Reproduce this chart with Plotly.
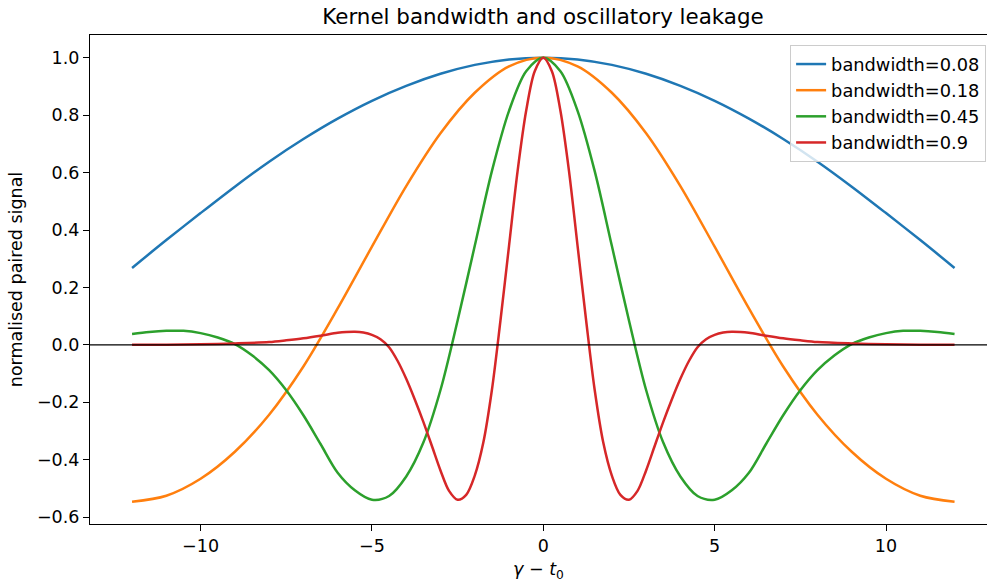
import plotly.graph_objects as go

# ---- data (curves are symmetric; values listed for x >= 0) ----
blue_x = [0, 1, 2, 3, 4, 5, 6, 7, 8, 9, 10, 11, 12]
blue_y = [1.000, 0.994, 0.975, 0.944, 0.902, 0.850, 0.788, 0.717, 0.638, 0.551, 0.459, 0.365, 0.268]

orange_x = [0, 1, 2, 3, 4, 5, 6, 7, 8, 9, 10, 11, 12]
orange_y = [1.000, 0.970, 0.878, 0.737, 0.553, 0.342, 0.127, -0.075, -0.243, -0.372, -0.466, -0.525, -0.546]

green_x = [0, 0.5, 1.0, 1.5, 2.0, 2.5, 3.0, 3.5, 4.0, 4.5, 5.0, 5.5, 6.0, 6.5, 7.0, 7.5,
           8.0, 8.5, 9.0, 9.5, 10.0, 10.5, 11.0, 11.5, 12.0]
green_y = [1.000, 0.953, 0.815, 0.605, 0.345, 0.085, -0.157, -0.340, -0.458, -0.526, -0.539, -0.506,
           -0.445, -0.345, -0.245, -0.158, -0.088, -0.036, 0.003, 0.026, 0.041, 0.049, 0.049,
           0.045, 0.038]

red_x = [0, 0.25, 0.5, 0.75, 1.0, 1.25, 1.5, 1.75, 2.0, 2.25, 2.5, 2.75, 3.0, 3.25, 3.5, 3.75,
         4.0, 4.25, 4.5, 4.75, 5.0, 5.25, 5.5, 5.75, 6.0, 6.5, 7.0, 7.5, 8.0, 9.0, 10.0, 11.0, 12.0]
red_y = [1.000, 0.953, 0.815, 0.605, 0.345, 0.085, -0.157, -0.340, -0.455, -0.522, -0.539, -0.508,
         -0.437, -0.352, -0.268, -0.190, -0.118, -0.056, -0.008, 0.020, 0.035, 0.043, 0.046, 0.045,
         0.042, 0.032, 0.023, 0.016, 0.010, 0.005, 0.002, 0.001, 0.0005]

series_names = ["bandwidth=0.08", "bandwidth=0.18", "bandwidth=0.45", "bandwidth=0.9"]
series_colors = ["#1f77b4", "#ff7f0e", "#2ca02c", "#d62728"]
series_data = [(blue_x, blue_y), (orange_x, orange_y), (green_x, green_y), (red_x, red_y)]

x_ticks = [-10, -5, 0, 5, 10]
y_ticks = [-0.6, -0.4, -0.2, 0.0, 0.2, 0.4, 0.6, 0.8, 1.0]


def mirror(xs, ys):
    fx = [-v for v in reversed(xs[1:])] + list(xs)
    fy = list(reversed(ys[1:])) + list(ys)
    return fx, fy


fig = go.Figure()
for i, (name, col, (xs, ys)) in enumerate(zip(series_names, series_colors, series_data)):
    fx, fy = mirror(xs, ys)
    fig.add_trace(go.Scatter(x=fx, y=fy, mode="lines", name=name,
                             line=dict(color=col, width=2.5, shape="spline", smoothing=0.9)))

fig.add_shape(type="line", xref="paper", yref="y", x0=0, x1=1, y0=0, y1=0,
              line=dict(color="black", width=1.2), layer="above")

font = "DejaVu Sans"
fig.update_layout(
    width=987, height=582,
    margin=dict(l=90, r=0, t=35, b=58),
    paper_bgcolor="white", plot_bgcolor="white",
    font=dict(family=font, size=17.5, color="black"),
    title=dict(text="Kernel bandwidth and oscillatory leakage", x=543 / 987, xref="container",
               xanchor="center", y=1 - 17 / 582, yref="container", yanchor="middle",
               font=dict(size=21.4, family=font)),
    showlegend=True,
    legend=dict(x=0.999, xanchor="right", y=0.9796, yanchor="top",
                bgcolor="rgba(255,255,255,0.8)", bordercolor="#cccccc", borderwidth=1,
                font=dict(size=17.8, family=font)),
)
fig.update_xaxes(range=[-13.227, 12.947], tickvals=x_ticks,
                 ticktext=[f"{v}".replace("-", "\u2212") for v in x_ticks],
                 showgrid=False, zeroline=False, showline=True, linecolor="black", linewidth=1.2,
                 mirror=True, ticks="outside", ticklen=6, tickwidth=1.2, tickcolor="black",
                 automargin=False, tickfont=dict(size=17.5, family=font),
                 title=dict(text="<i>γ</i> − <i>t</i><sub>0</sub>", standoff=9, font=dict(size=17.5)))
fig.update_yaxes(range=[-0.6235, 1.079], tickvals=y_ticks,
                 ticktext=[f"{v:.1f}".replace("-", "\u2212") for v in y_ticks],
                 showgrid=False, zeroline=False, showline=True, linecolor="black", linewidth=1.2,
                 mirror=False, ticks="outside", ticklen=6, tickwidth=1.2, tickcolor="black",
                 automargin=False, tickfont=dict(size=17.5, family=font),
                 title=dict(text="normalised paired signal", standoff=9, font=dict(size=17.5)))

fig.write_html("out.html", config={"displayModeBar": False},
               post_script="document.body.style.margin='0px';document.body.style.overflow='hidden';")
